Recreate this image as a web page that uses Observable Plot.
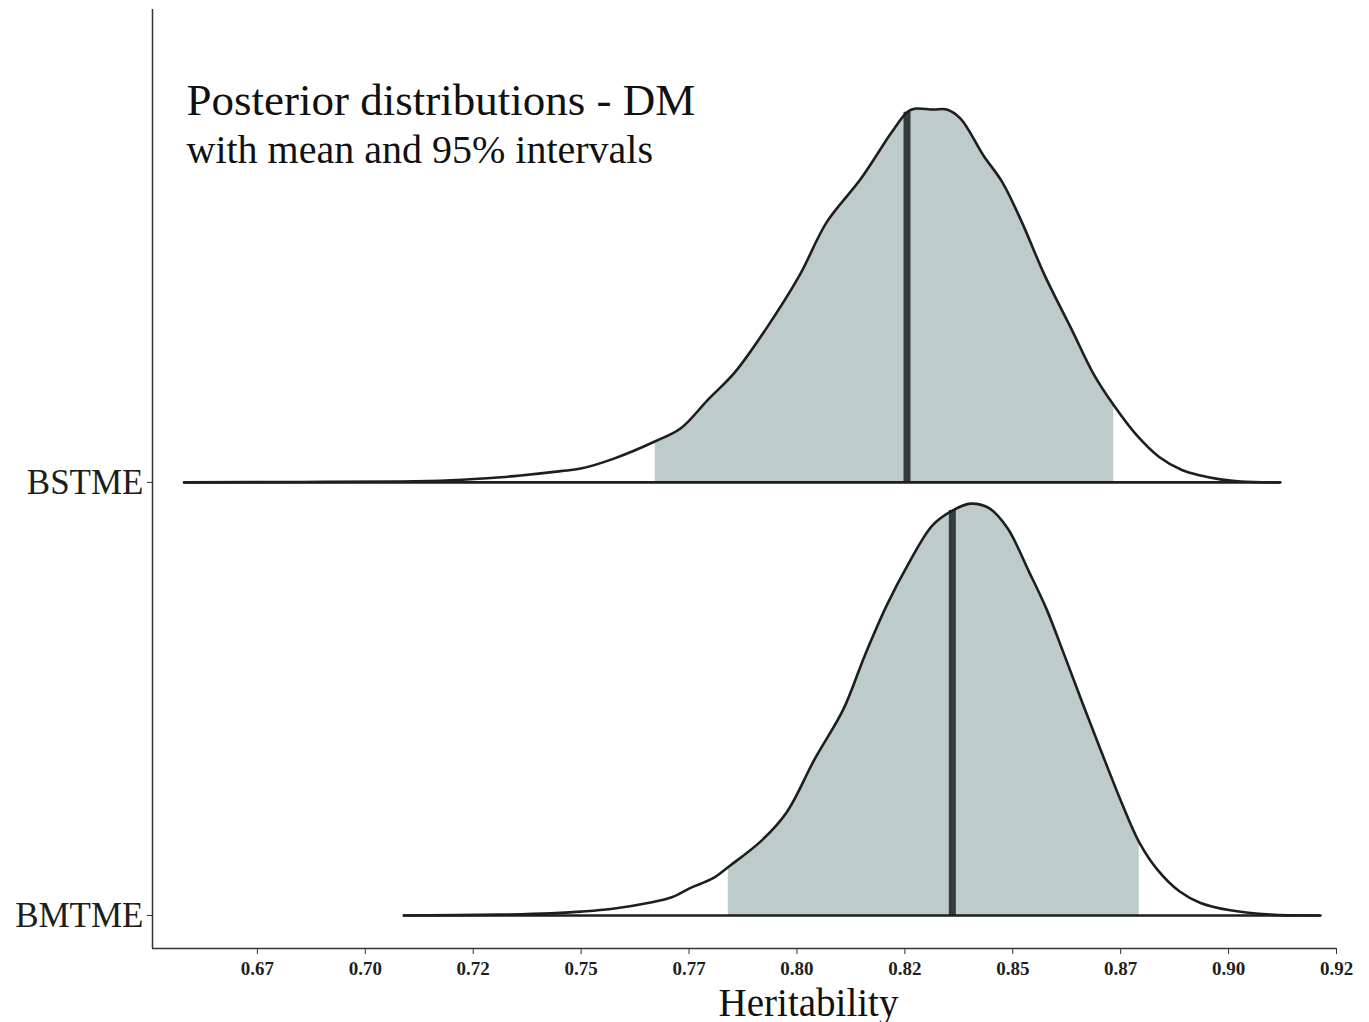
<!DOCTYPE html>
<html>
<head>
<meta charset="utf-8">
<script src="https://cdn.jsdelivr.net/npm/d3@7"></script>
<script src="https://cdn.jsdelivr.net/npm/@observablehq/plot@0.6"></script>
<style>
  html, body { margin: 0; padding: 0; background: #fff; }
  #chart { width: 1369px; height: 1022px; }
  #chart svg text { font-family: 'Liberation Serif', 'Times New Roman', serif; }
</style>
</head>
<body>
<div id="chart"></div>
<script>
// ---- data ----
const models = ["BMTME", "BSTME"];           // row index = baseline position
const xTicks = [0.675, 0.7, 0.725, 0.75, 0.775, 0.8, 0.825, 0.85, 0.875, 0.9, 0.925];
const xTickLabels = ["0.67", "0.70", "0.72", "0.75", "0.77", "0.80", "0.82", "0.85", "0.87", "0.90", "0.92"];

const bstmeX = [0.6580, 0.6851, 0.7082, 0.7198, 0.7314, 0.7360, 0.7453, 0.7499, 0.7576, 0.7672, 0.7731, 0.7793, 0.7856, 0.7928, 0.8006, 0.8069, 0.8148, 0.8219, 0.8255, 0.8272, 0.8316, 0.8347, 0.8379, 0.8432, 0.8476, 0.8521, 0.8574, 0.8636, 0.8689, 0.8734, 0.8787, 0.8840, 0.8893, 0.8935, 0.8981, 0.9028, 0.9120];
const bstmeH = [0, 0.001, 0.002, 0.005, 0.012, 0.016, 0.026, 0.032, 0.055, 0.095, 0.125, 0.190, 0.254, 0.354, 0.478, 0.601, 0.701, 0.808, 0.855, 0.863, 0.861, 0.861, 0.840, 0.755, 0.693, 0.601, 0.478, 0.354, 0.247, 0.178, 0.109, 0.058, 0.028, 0.016, 0.007, 0.002, 0];

const bmtmeX = [0.7089, 0.7314, 0.7430, 0.7499, 0.7569, 0.7661, 0.7710, 0.7756, 0.7786, 0.7809, 0.7841, 0.7918, 0.7976, 0.8041, 0.8108, 0.8157, 0.8208, 0.8256, 0.8314, 0.8360, 0.8402, 0.8446, 0.8488, 0.8538, 0.8578, 0.8620, 0.8661, 0.8703, 0.8752, 0.8793, 0.8835, 0.8886, 0.8935, 0.9004, 0.9097, 0.9213];
const bmtmeH = [0, 0.002, 0.005, 0.009, 0.015, 0.030, 0.042, 0.065, 0.077, 0.088, 0.112, 0.173, 0.238, 0.361, 0.477, 0.600, 0.716, 0.808, 0.901, 0.935, 0.951, 0.940, 0.894, 0.793, 0.708, 0.600, 0.492, 0.384, 0.261, 0.169, 0.106, 0.056, 0.029, 0.012, 0.002, 0];

const intervalLow  = [0.7841, 0.7672];   // BMTME, BSTME
const intervalHigh = [0.8793, 0.8734];
const means        = [0.8360, 0.8255];

const titleText = "Posterior distributions - DM";
const subtitleText = "with mean and 95% intervals";
const xLabel = "Heritability";

// ---- build tables ----
const curves = [
  {model: "BMTME", row: 0, xs: bmtmeX, hs: bmtmeH},
  {model: "BSTME", row: 1, xs: bstmeX, hs: bstmeH}
];
const pts = curves.flatMap(c => c.xs.map((x, i) => ({model: c.model, row: c.row, x, h: c.hs[i]})));
const shaded = pts.filter(d => d.x >= intervalLow[d.row] - 1e-9 && d.x <= intervalHigh[d.row] + 1e-9);
function heightAt(c, x) {
  const i = d3.bisectLeft(c.xs, x);
  if (i <= 0) return c.hs[0];
  if (i >= c.xs.length) return c.hs[c.hs.length - 1];
  const t = (x - c.xs[i - 1]) / (c.xs[i] - c.xs[i - 1]);
  return c.hs[i - 1] + t * (c.hs[i] - c.hs[i - 1]);
}
const meanRows = curves.map(c => ({row: c.row, x: means[c.row], top: c.row + heightAt(c, means[c.row])}));
const baseRows = curves.map(c => ({row: c.row, x1: d3.min(c.xs), x2: d3.max(c.xs)}));

const xDomain = [0.6507, 0.925];
const yDomain = [-0.0762, 2.092];
const labelMap = new Map(xTicks.map((t, i) => [t, xTickLabels[i]]));
const font = "'Liberation Serif', 'Times New Roman', serif";
const curveType = "catmull-rom";
const ink = "#1e1e1e";

const plot = Plot.plot({
  width: 1369,
  height: 1022,
  marginLeft: 152,
  marginRight: 33,
  marginTop: 9,
  marginBottom: 74,
  style: {fontFamily: font, background: "#fff", color: ink, overflow: "visible"},
  x: {domain: xDomain},
  y: {domain: yDomain},
  marks: [
    Plot.areaY(shaded, {x: "x", y1: "row", y2: d => d.row + d.h, z: "model", fill: "#bdcbca", curve: curveType}),
    Plot.ruleX(meanRows, {x: "x", y1: "row", y2: "top", stroke: "#353b3d", strokeWidth: 7}),
    Plot.line(pts, {x: "x", y: d => d.row + d.h, z: "model", stroke: ink, strokeWidth: 2.6, curve: curveType}),
    Plot.ruleY(baseRows, {y: "row", x1: "x1", x2: "x2", stroke: ink, strokeWidth: 2.6}),
    Plot.ruleX([xDomain[0]], {stroke: "#333", strokeWidth: 1.5}),
    Plot.ruleY([yDomain[0]], {stroke: "#333", strokeWidth: 1.5}),
    Plot.axisX({ticks: xTicks, tickFormat: d => labelMap.get(d), tickSize: 6, tickPadding: 7,
      fontSize: 19, fontWeight: "bold", label: null, stroke: "#333", fontFamily: font}),
    Plot.axisY({ticks: [0, 1], tickFormat: d => models[d], tickSize: 5, tickPadding: 4,
      fontSize: 35, label: null, stroke: "#333", fontFamily: font}),
    Plot.text([xLabel], {frameAnchor: "bottom", lineAnchor: "top", dx: 64, dy: 40, fontSize: 39, fill: "#111", fontFamily: font}),
    Plot.text([titleText], {frameAnchor: "top-left", lineAnchor: "top", textAnchor: "start", dx: 34, dy: 74, fontSize: 45, fill: "#111", fontFamily: font}),
    Plot.text([subtitleText], {frameAnchor: "top-left", lineAnchor: "top", textAnchor: "start", dx: 34, dy: 125, fontSize: 40, fill: "#111", fontFamily: font})
  ]
});
document.getElementById("chart").appendChild(plot);
</script>
</body>
</html>
